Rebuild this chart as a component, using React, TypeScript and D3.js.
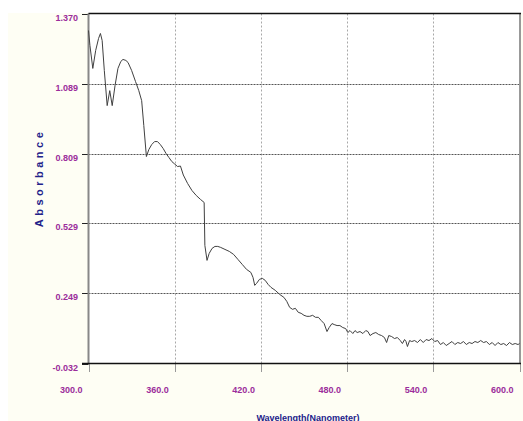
import React from "react";
import * as d3 from "d3";

const wavelengths: number[] = [
  300, 301, 303, 305, 307, 308.3, 309.5, 311, 313, 314.8, 316.5, 318.5, 320.5, 322.5, 324, 326, 327.5, 330, 332.7, 335,
  337, 338.5, 340.3, 342, 344, 346, 348, 350, 352, 354, 356, 358, 360, 362, 364, 366, 369, 372, 375, 378,
  380.5, 381, 382.5, 384, 386, 388, 390, 392, 395, 398, 401, 404, 407, 410, 413, 414.5, 415.7, 417, 419, 421,
  423, 425, 427, 430, 433, 436, 438, 440, 442, 444, 446, 448, 450, 452, 454, 456, 458, 460, 462, 464,
  466, 467.5, 469.5, 471, 473, 475, 477, 479, 480.5, 482, 484, 485.5, 487, 489, 491, 493, 494.5, 496, 498, 500,
  502, 504, 506, 507.5, 509, 511, 513, 515, 517, 518.5, 520, 521, 522, 523.5, 525, 527, 529, 531, 533, 535,
  537, 539, 541, 543, 545, 547, 549, 551, 553, 555, 557, 559, 561, 563, 565, 567, 569, 571, 573, 575,
  577, 579, 581, 583, 585, 587, 589, 591, 593, 595, 597, 599, 600,
];

const absorbance: number[] = [
  1.302, 1.242, 1.150, 1.222, 1.270, 1.290, 1.262, 1.142, 1.001, 1.061, 1.001, 1.082, 1.150, 1.178, 1.186, 1.182, 1.174, 1.142, 1.098, 1.061,
  1.021, 0.921, 0.797, 0.825, 0.845, 0.857, 0.857, 0.845, 0.829, 0.809, 0.793, 0.777, 0.767, 0.757, 0.759, 0.723, 0.689, 0.661, 0.641, 0.625,
  0.613, 0.441, 0.381, 0.409, 0.429, 0.437, 0.437, 0.433, 0.425, 0.417, 0.405, 0.385, 0.365, 0.345, 0.333, 0.313, 0.281, 0.289, 0.305, 0.309,
  0.301, 0.285, 0.273, 0.261, 0.245, 0.233, 0.217, 0.193, 0.185, 0.189, 0.173, 0.169, 0.161, 0.157, 0.157, 0.161, 0.153, 0.153, 0.140, 0.128,
  0.096, 0.112, 0.128, 0.124, 0.120, 0.120, 0.112, 0.108, 0.092, 0.100, 0.088, 0.100, 0.092, 0.096, 0.088, 0.100, 0.096, 0.080, 0.088, 0.092,
  0.084, 0.080, 0.072, 0.052, 0.080, 0.076, 0.068, 0.072, 0.060, 0.048, 0.064, 0.056, 0.036, 0.060, 0.056, 0.060, 0.052, 0.064, 0.052, 0.064,
  0.060, 0.068, 0.056, 0.060, 0.044, 0.052, 0.040, 0.048, 0.056, 0.044, 0.052, 0.048, 0.056, 0.044, 0.052, 0.048, 0.056, 0.052, 0.060, 0.052,
  0.056, 0.044, 0.052, 0.040, 0.052, 0.044, 0.048, 0.040, 0.052, 0.044, 0.048, 0.044, 0.048,
];

const yTicks: number[] = [1.370, 1.089, 0.809, 0.529, 0.249, -0.032];
const yTickLabels: string[] = ["1.370", "1.089", "0.809", "0.529", "0.249", "-0.032"];
const xTicks: number[] = [300, 360, 420, 480, 540, 600];
const xTickLabels: string[] = ["300.0", "360.0", "420.0", "480.0", "540.0", "600.0"];

const xTitle = "Wavelength(Nanometer)";
const yTitle = "Absorbance";

export default function App() {
  const left = 88.5;
  const right = 519.5;
  const top = 13.5;
  const bottom = 363.5;

  const x = d3.scaleLinear().domain([300, 600]).range([left, right]);
  const y = d3.scaleLinear().domain([-0.032, 1.37]).range([bottom, top]);

  const pts: [number, number][] = wavelengths.map((w, i) => [w, absorbance[i]]);
  const line = d3
    .line<[number, number]>()
    .x((d) => x(d[0]))
    .y((d) => y(d[1]));

  const purple = "#9b2d9b";
  const navy = "#22228a";
  const font = "'Liberation Sans', Arial, sans-serif";

  return (
    <svg
      width={523}
      height={421}
      style={{ position: "absolute", left: 0, top: 0, background: "#ffffff" }}
    >
      <rect x={8} y={13} width={515} height={408} fill="#fefef4" />
      <rect x={left} y={top} width={right - left} height={bottom - top} fill="#ffffff" />

      {/* vertical grid */}
      {xTicks.slice(1, -1).map((t) => (
        <line
          key={"vg" + t}
          x1={Math.round(x(t)) + 0.5}
          x2={Math.round(x(t)) + 0.5}
          y1={top}
          y2={bottom}
          stroke="#a8a8a8"
          strokeWidth={1}
          strokeDasharray="2,2"
        />
      ))}
      {/* horizontal grid */}
      {yTicks.slice(1, -1).map((t) => (
        <line
          key={"hg" + t}
          x1={left}
          x2={right}
          y1={Math.round(y(t)) + 0.5}
          y2={Math.round(y(t)) + 0.5}
          stroke="#555555"
          strokeWidth={1}
          strokeDasharray="2,1"
        />
      ))}

      {/* y ticks */}
      {yTicks.map((t) => (
        <line
          key={"yt" + t}
          x1={82}
          x2={left}
          y1={Math.round(y(t)) + 0.5}
          y2={Math.round(y(t)) + 0.5}
          stroke="#222"
          strokeWidth={1}
        />
      ))}
      {/* x ticks */}
      {xTicks.map((t) => (
        <line
          key={"xt" + t}
          x1={Math.round(x(t)) + 0.5}
          x2={Math.round(x(t)) + 0.5}
          y1={bottom}
          y2={372}
          stroke="#999"
          strokeWidth={1}
        />
      ))}

      {/* frame */}
      <line x1={left} x2={left} y1={top} y2={bottom} stroke="#888" strokeWidth={2} />
      <line x1={right + 0.5} x2={right + 0.5} y1={top} y2={bottom} stroke="#999" strokeWidth={2} />
      <line x1={left} x2={right + 1.5} y1={top} y2={top} stroke="#111" strokeWidth={1.5} />
      <line x1={82} x2={right + 1.5} y1={bottom} y2={bottom} stroke="#111" strokeWidth={1.5} />

      {/* data */}
      <path d={line(pts) || ""} fill="none" stroke="#404040" strokeWidth={1} />

      {/* y labels */}
      {yTicks.map((t, i) => (
        <text
          key={"yl" + t}
          x={78}
          y={y(t) + 7}
          textAnchor="end"
          fontFamily={font}
          fontWeight="bold"
          fontSize={9}
          fill={purple}
        >
          {yTickLabels[i]}
        </text>
      ))}
      {/* x labels */}
      {xTicks.map((t, i) => (
        <text
          key={"xl" + t}
          x={x(t) - 6}
          y={392.5}
          textAnchor="end"
          fontFamily={font}
          fontWeight="bold"
          fontSize={9}
          fill={purple}
        >
          {xTickLabels[i]}
        </text>
      ))}

      <text
        x={308}
        y={421}
        textAnchor="middle"
        fontFamily={font}
        fontWeight="bold"
        fontSize={9}
        fill={navy}
      >
        {xTitle}
      </text>
      <text
        transform="translate(43,178) rotate(-90)"
        textAnchor="middle"
        fontFamily={font}
        fontWeight="bold"
        fontSize={11}
        letterSpacing={3.5}
        fill={navy}
      >
        {yTitle}
      </text>
    </svg>
  );
}
